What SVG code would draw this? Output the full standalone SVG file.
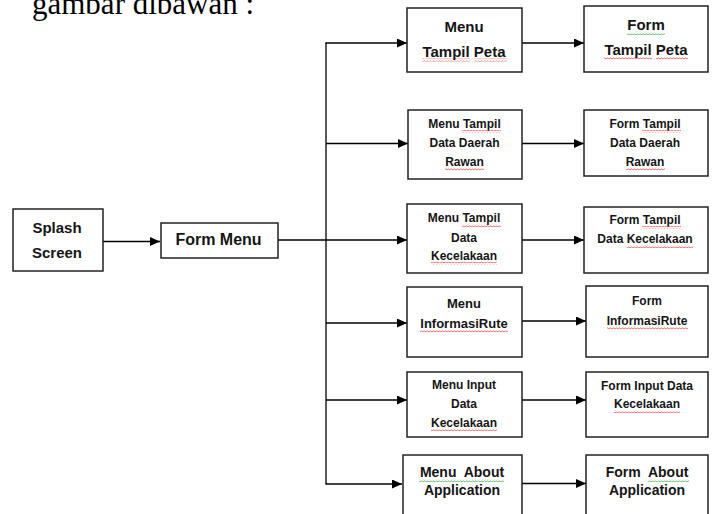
<svg xmlns="http://www.w3.org/2000/svg" width="716" height="514" viewBox="0 0 716 514">
<style>
.box{fill:#fff;stroke:#222;stroke-width:1.5}
.t{font-family:"Liberation Sans",Arial,sans-serif;font-weight:bold;fill:#151515;text-anchor:middle;white-space:pre}
.s12{font-size:12px}.s13{font-size:13px}.s14{font-size:14px}.s15{font-size:15px}.s16{font-size:16px}
.ln{fill:none;stroke:#000;stroke-width:1.3}
.title{font-family:"Liberation Serif","Times New Roman",serif;font-size:31px;fill:#000}
</style>
<defs>
<marker id="ah" markerWidth="11" markerHeight="10" refX="10" refY="4.5" orient="auto" markerUnits="userSpaceOnUse"><path d="M0,0 L10,4.5 L0,9 z" fill="#000"/></marker>
<pattern id="wr" width="3" height="3" patternUnits="userSpaceOnUse"><path d="M0,2.3 L1.5,0.7 L3,2.3" fill="none" stroke="#e23b3b" stroke-width="0.8"/></pattern>
<pattern id="wg" width="3" height="3" patternUnits="userSpaceOnUse"><path d="M0,2.3 L1.5,0.7 L3,2.3" fill="none" stroke="#3aa33a" stroke-width="0.8"/></pattern>
</defs>
<text class="title" x="32" y="14">gambar dibawan :</text>
<g id="connectors">
<line class="ln" x1="103" y1="241.5" x2="160" y2="241.5" marker-end="url(#ah)"/>
<line class="ln" x1="278" y1="240" x2="326" y2="240"/>
<line class="ln" x1="326" y1="43" x2="326" y2="484"/>
<line class="ln" x1="325.4" y1="43" x2="407" y2="43" marker-end="url(#ah)"/>
<line class="ln" x1="326" y1="143.5" x2="408" y2="143.5" marker-end="url(#ah)"/>
<line class="ln" x1="326" y1="240" x2="407" y2="240" marker-end="url(#ah)"/>
<line class="ln" x1="326" y1="323" x2="407" y2="323" marker-end="url(#ah)"/>
<line class="ln" x1="326" y1="400" x2="407" y2="400" marker-end="url(#ah)"/>
<line class="ln" x1="325.4" y1="484" x2="402" y2="484" marker-end="url(#ah)"/>
<line class="ln" x1="522" y1="43" x2="584" y2="43" marker-end="url(#ah)"/>
<line class="ln" x1="522" y1="143.5" x2="584" y2="143.5" marker-end="url(#ah)"/>
<line class="ln" x1="522" y1="240" x2="584" y2="240" marker-end="url(#ah)"/>
<line class="ln" x1="522" y1="321" x2="586" y2="321" marker-end="url(#ah)"/>
<line class="ln" x1="522" y1="400" x2="586" y2="400" marker-end="url(#ah)"/>
<line class="ln" x1="522" y1="483.5" x2="586" y2="483.5" marker-end="url(#ah)"/>
</g>
<g id="splash">
<rect class="box" x="13" y="209" width="90" height="62"/>
<text class="t s15" x="57" y="233.3">Splash</text>
<text class="t s15" x="57" y="258.3">Screen</text>
</g>
<g id="formmenu">
<rect class="box" x="161" y="223" width="117" height="35"/>
<text class="t s16" x="218.5" y="244.5">Form Menu</text>
</g>
<g id="menu1">
<rect class="box" x="407" y="8" width="115" height="64"/>
<text class="t s15" x="464" y="31.7">Menu</text>
<text class="t s15" x="464" y="56.7">Tampil Peta</text>
<rect x="422" y="58.5" width="48" height="3" fill="url(#wr)"/>
<rect x="474.5" y="58.5" width="32" height="3" fill="url(#wr)"/>
</g>
<g id="form1">
<rect class="box" x="584" y="6" width="124" height="66"/>
<text class="t s15" x="646" y="30">Form</text>
<text class="t s15" x="646" y="55">Tampil Peta</text>
<rect x="627" y="32" width="38" height="3" fill="url(#wg)"/>
<rect x="604" y="57" width="48" height="3" fill="url(#wr)"/>
<rect x="656" y="57" width="32" height="3" fill="url(#wr)"/>
</g>
<g id="menu2">
<rect class="box" x="408" y="110" width="114" height="69"/>
<text class="t s12" x="464.5" y="128.3">Menu Tampil</text>
<text class="t s12" x="464.5" y="147.3">Data Daerah</text>
<text class="t s12" x="464.5" y="166">Rawan</text>
<rect x="462" y="130" width="39" height="3" fill="url(#wr)"/>
<rect x="445" y="167.7" width="39" height="3" fill="url(#wr)"/>
</g>
<g id="form2">
<rect class="box" x="584" y="110" width="124" height="66"/>
<text class="t s12" x="645" y="128.3">Form Tampil</text>
<text class="t s12" x="645" y="147.3">Data Daerah</text>
<text class="t s12" x="645" y="166">Rawan</text>
<rect x="642" y="130" width="39" height="3" fill="url(#wr)"/>
<rect x="626" y="167.7" width="39" height="3" fill="url(#wr)"/>
</g>
<g id="menu3">
<rect class="box" x="407" y="204" width="115" height="69"/>
<text class="t s12" x="464" y="222.3">Menu Tampil</text>
<text class="t s12" x="464" y="241.7">Data</text>
<text class="t s12" x="464" y="260">Kecelakaan</text>
<rect x="462" y="224" width="39" height="3" fill="url(#wr)"/>
<rect x="431" y="261.7" width="66" height="3" fill="url(#wr)"/>
</g>
<g id="form3">
<rect class="box" x="584" y="207" width="124" height="66"/>
<text class="t s12" x="645" y="224.3">Form Tampil</text>
<text class="t s12" x="645" y="243.3">Data Kecelakaan</text>
<rect x="642" y="226" width="39" height="3" fill="url(#wr)"/>
<rect x="627" y="245" width="66" height="3" fill="url(#wr)"/>
</g>
<g id="menu4">
<rect class="box" x="407" y="287" width="115" height="70"/>
<text class="t s13" x="464" y="308.3">Menu</text>
<text class="t s13" x="464" y="328.3">InformasiRute</text>
<rect x="420" y="330" width="88" height="3" fill="url(#wr)"/>
</g>
<g id="form4">
<rect class="box" x="586" y="286" width="122" height="71"/>
<text class="t s12" x="647" y="305">Form</text>
<text class="t s12" x="647" y="325">InformasiRute</text>
<rect x="607" y="326.7" width="81" height="3" fill="url(#wr)"/>
</g>
<g id="menu5">
<rect class="box" x="407" y="372" width="115" height="65"/>
<text class="t s12" x="464" y="389.3">Menu Input</text>
<text class="t s12" x="464" y="408.3">Data</text>
<text class="t s12" x="464" y="426.7">Kecelakaan</text>
<rect x="431" y="428.4" width="66" height="3" fill="url(#wr)"/>
</g>
<g id="form5">
<rect class="box" x="586" y="372" width="122" height="65"/>
<text class="t s12" x="647" y="390">Form Input Data</text>
<text class="t s12" x="647" y="408.3">Kecelakaan</text>
<rect x="614" y="410" width="66" height="3" fill="url(#wr)"/>
</g>
<g id="menu6">
<rect class="box" x="403" y="455" width="119" height="70"/>
<text class="t s14" x="462" y="477.3">Menu  About</text>
<text class="t s14" x="462" y="495">Application</text>
<rect x="419" y="479" width="85" height="3" fill="url(#wg)"/>
</g>
<g id="form6">
<rect class="box" x="586" y="455" width="122" height="70"/>
<text class="t s14" x="647" y="477.3">Form  About</text>
<text class="t s14" x="647" y="495">Application</text>
<rect x="648" y="479" width="41" height="3" fill="url(#wg)"/>
</g>
</svg>
